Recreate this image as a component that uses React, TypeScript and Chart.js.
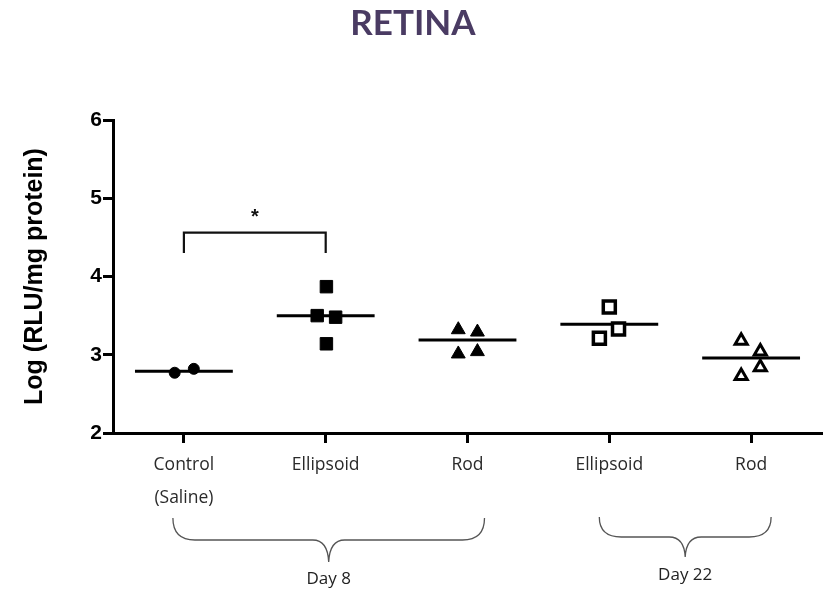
import React, { useEffect, useRef } from 'react';
import { Chart, registerables } from 'chart.js';

Chart.register(...registerables);

// ---------- data ----------
const chartTitle = 'RETINA';
const yAxisTitle = 'Log (RLU/mg protein)';
const categoryLabels: (string | string[])[] = [['Control', '(Saline)'], 'Ellipsoid', 'Rod', 'Ellipsoid', 'Rod'];
const yTickValues = [2, 3, 4, 5, 6];
const dayGroupLabels = ['Day 8', 'Day 22'];
const dayGroupFirstCategory = [0, 3];
const dayGroupLastCategory = [2, 4];

const controlValues = [2.77, 2.82];
const controlJitter = [-0.065, 0.07];
const ellipsoidDay8Values = [3.87, 3.5, 3.48, 3.14];
const ellipsoidDay8Jitter = [0.005, -0.06, 0.07, 0.005];
const rodDay8Values = [3.32, 3.29, 3.01, 3.04];
const rodDay8Jitter = [-0.065, 0.07, -0.065, 0.07];
const ellipsoidDay22Values = [3.61, 3.21, 3.33];
const ellipsoidDay22Jitter = [0, -0.07, 0.065];
const rodDay22Values = [3.18, 3.04, 2.84, 2.73];
const rodDay22Jitter = [-0.07, 0.065, 0.065, -0.07];
const meanValues = [2.79, 3.5, 3.19, 3.39, 2.96];

const sigFromCategory = 0;
const sigToCategory = 1;
const sigBracketTop = 4.56;
const sigBracketLeg = 4.3;
const sigLabel = '*';

// ---------- styles ----------
const meanHalfWidth = 0.345;

type SeriesDef = {
  values: number[];
  jitter: number[];
  category: number;
  pointStyle: string;
  radius: number;
  filled: boolean;
  borderWidth: number;
};

const seriesDefs: SeriesDef[] = [
  { values: controlValues, jitter: controlJitter, category: 0, pointStyle: 'circle', radius: 5.5, filled: true, borderWidth: 1 },
  { values: ellipsoidDay8Values, jitter: ellipsoidDay8Jitter, category: 1, pointStyle: 'rect', radius: 8.8, filled: true, borderWidth: 1 },
  { values: rodDay8Values, jitter: rodDay8Jitter, category: 2, pointStyle: 'triangle', radius: 8, filled: true, borderWidth: 1 },
  { values: ellipsoidDay22Values, jitter: ellipsoidDay22Jitter, category: 3, pointStyle: 'rect', radius: 8.5, filled: false, borderWidth: 3.5 },
  { values: rodDay22Values, jitter: rodDay22Jitter, category: 4, pointStyle: 'triangle', radius: 7, filled: false, borderWidth: 3 },
];

const braceStyles = [
  { top: 518, mid: 540, tip: 562, labelY: 584, padLeft: 11, padRight: 17 },
  { top: 517, mid: 537, tip: 557, labelY: 580, padLeft: 10, padRight: 20 },
];

const overlayPlugin = {
  id: 'overlay',
  afterDraw(chart: any) {
    const ctx = chart.ctx as CanvasRenderingContext2D;
    const xs = chart.scales.x;
    const ys = chart.scales.y;
    ctx.save();
    // title
    ctx.fillStyle = '#4a3b63';
    ctx.font = 'bold 35px Lato';
    ctx.textAlign = 'center';
    ctx.textBaseline = 'alphabetic';
    ctx.fillText(chartTitle, 413, 35);

    // significance star
    ctx.fillStyle = '#111';
    ctx.font = 'bold 20px "Liberation Sans"';
    const sx = (xs.getPixelForValue(sigFromCategory) + xs.getPixelForValue(sigToCategory)) / 2;
    ctx.fillText(sigLabel, sx, ys.getPixelForValue(sigBracketTop) - 10);

    // braces
    ctx.strokeStyle = '#555';
    ctx.lineWidth = 1.3;
    dayGroupLabels.forEach((label, i) => {
      const st = braceStyles[i];
      const L = xs.getPixelForValue(dayGroupFirstCategory[i]) - st.padLeft;
      const R = xs.getPixelForValue(dayGroupLastCategory[i]) + st.padRight;
      const T = (L + R) / 2;
      ctx.beginPath();
      ctx.moveTo(L, st.top);
      ctx.quadraticCurveTo(L, st.mid, L + 22, st.mid);
      ctx.lineTo(T - 16, st.mid);
      ctx.quadraticCurveTo(T - 1, st.mid, T, st.tip);
      ctx.quadraticCurveTo(T + 1, st.mid, T + 16, st.mid);
      ctx.lineTo(R - 22, st.mid);
      ctx.quadraticCurveTo(R, st.mid, R, st.top);
      ctx.stroke();
      ctx.fillStyle = '#222';
      ctx.font = '17px "Open Sans"';
      ctx.textAlign = 'center';
      ctx.textBaseline = 'alphabetic';
      ctx.fillText(label, T, st.labelY);
    });
    ctx.restore();
  },
};

export default function App() {
  const ref = useRef<HTMLCanvasElement>(null);
  useEffect(() => {
    document.body.style.margin = '0';
    if (!ref.current) return;

    const pointDatasets = seriesDefs.map((s) => ({
      type: 'scatter' as const,
      data: s.values.map((v, i) => ({ x: s.category + s.jitter[i], y: v })),
      pointStyle: s.pointStyle,
      pointRadius: s.radius,
      pointBackgroundColor: s.filled ? '#000' : '#fff',
      pointBorderColor: '#000',
      pointBorderWidth: s.borderWidth,
      showLine: false,
      order: 0,
    }));

    const meanDatasets = meanValues.map((m, i) => ({
      type: 'scatter' as const,
      data: [
        { x: i - meanHalfWidth, y: m },
        { x: i + meanHalfWidth, y: m },
      ],
      showLine: true,
      borderColor: '#000',
      borderWidth: 3,
      pointRadius: 0,
      order: 1,
    }));

    const bracketDataset = {
      type: 'scatter' as const,
      data: [
        { x: sigFromCategory, y: sigBracketLeg },
        { x: sigFromCategory, y: sigBracketTop },
        { x: sigToCategory, y: sigBracketTop },
        { x: sigToCategory, y: sigBracketLeg },
      ],
      showLine: true,
      borderColor: '#111',
      borderWidth: 2.2,
      pointRadius: 0,
      order: 1,
    };

    const tickGrid = {
      display: true,
      drawOnChartArea: false,
      drawTicks: true,
      tickLength: 10,
      tickWidth: 3,
      tickColor: '#000',
    };

    const chart = new Chart(ref.current, {
      type: 'scatter',
      data: { datasets: [...pointDatasets, ...meanDatasets, bracketDataset] as any },
      options: {
        responsive: false,
        animation: false,
        events: [],
        layout: { autoPadding: false, padding: { top: 120, right: 6, left: 0, bottom: 0 } },
        plugins: {
          legend: { display: false },
          tooltip: { enabled: false },
          title: { display: false },
        },
        scales: {
          x: {
            type: 'linear',
            min: -0.5,
            max: 4.5,
            afterBuildTicks: (s: any) => {
              s.ticks = categoryLabels.map((_, i) => ({ value: i }));
            },
            afterFit: (s: any) => {
              s.height = 156;
            },
            ticks: {
              autoSkip: false,
              maxRotation: 0,
              minRotation: 0,
              padding: 6,
              color: '#2a2a2a',
              font: { family: '"Open Sans"', size: 17.5, lineHeight: 1.85 },
              callback: (v: any) => categoryLabels[Math.round(Number(v))] as any,
            },
            grid: tickGrid,
            border: { display: true, color: '#000', width: 3 },
          },
          y: {
            type: 'linear',
            min: 2,
            max: 6,
            afterBuildTicks: (s: any) => {
              s.ticks = yTickValues.map((v) => ({ value: v }));
            },
            afterFit: (s: any) => {
              s.width = 113;
            },
            ticks: {
              padding: 1,
              color: '#000',
              font: { family: '"Liberation Sans"', size: 21, weight: 'bold' },
            },
            title: {
              display: true,
              text: yAxisTitle,
              color: '#000',
              font: { family: '"Liberation Sans"', size: 25, weight: 'bold' },
              padding: { top: 20, bottom: 0 },
            },
            grid: tickGrid,
            border: { display: true, color: '#000', width: 3 },
          },
        },
      } as any,
      plugins: [overlayPlugin],
    });
    return () => chart.destroy();
  }, []);

  return (
    <div style={{ position: 'absolute', left: 0, top: 0, width: 828, height: 589 }}>
      <canvas ref={ref} width={828} height={589} />
    </div>
  );
}
